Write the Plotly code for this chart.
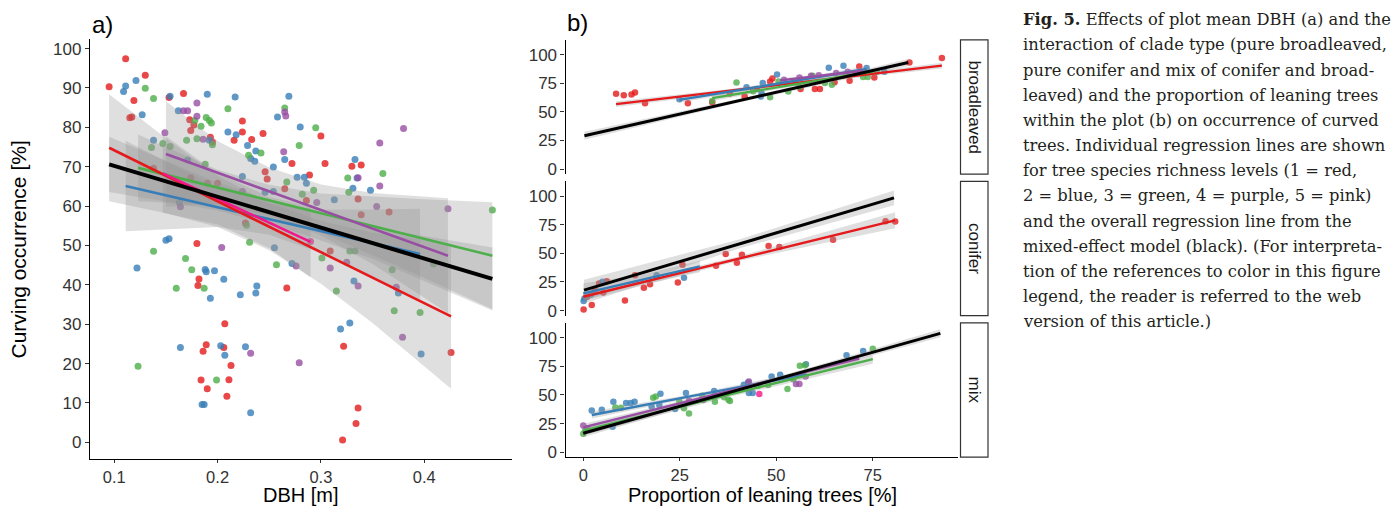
import plotly.graph_objects as go

W, H = 1399, 509
RED, BLUE, GREEN, PURPLE, PINK = "#E41A1C", "#377EB8", "#4DAF4A", "#984EA3", "#F2178A"
RIB = "rgba(150,150,150,0.30)"
FONT = "Liberation Sans, Arial, sans-serif"

# ---------------- Panel a: DBH vs curving occurrence ----------------
a_red_x = [0.095, 0.111, 0.119, 0.115, 0.117, 0.130, 0.153, 0.167, 0.173, 0.177, 0.174, 0.193, 0.195, 0.224, 0.224,
           0.216, 0.233, 0.244, 0.174, 0.200, 0.190, 0.227, 0.180, 0.182, 0.181, 0.207, 0.189, 0.186, 0.206, 0.213,
           0.184, 0.211, 0.190, 0.209, 0.267, 0.289, 0.248, 0.246, 0.265, 0.286, 0.336, 0.366, 0.339, 0.300, 0.272,
           0.304, 0.330, 0.339, 0.309, 0.322, 0.426, 0.336, 0.334, 0.321, 0.138]
a_red_y = [90.3, 97.4, 86.8, 82.4, 82.6, 93.2, 87.6, 88.6, 81.9, 80.6, 79.2, 77.5, 76.3, 81.6, 78.8,
           76.7, 76.9, 78.4, 67.2, 65.8, 65.8, 55.7, 50.5, 41.5, 39.8, 30.1, 24.8, 23.1, 24.1, 19.5,
           15.8, 15.9, 13.6, 11.7, 39.2, 67.9, 66.9, 68.7, 64.4, 61.4, 61.8, 58.5, 57.8, 77.8, 70.8,
           70.8, 70.1, 70.4, 48.6, 24.4, 22.8, 8.7, 4.8, 0.6, 69.6]
a_blue_x = [0.109, 0.111, 0.121, 0.127, 0.138, 0.154, 0.162, 0.190, 0.217, 0.210, 0.218, 0.192, 0.229, 0.232, 0.236,
            0.237, 0.171, 0.224, 0.163, 0.150, 0.153, 0.122, 0.188, 0.189, 0.197, 0.206, 0.193, 0.222, 0.238, 0.237,
            0.164, 0.203, 0.207, 0.227, 0.185, 0.187, 0.232, 0.255, 0.272, 0.319, 0.328, 0.332, 0.375, 0.277, 0.284,
            0.286, 0.313, 0.331, 0.348, 0.335, 0.269, 0.258, 0.280, 0.265, 0.333, 0.254, 0.246, 0.254, 0.397]
a_blue_y = [89.1, 90.5, 91.9, 83.2, 76.7, 87.9, 84.2, 88.4, 87.7, 78.8, 78.1, 76.7, 75.4, 72.1, 71.4,
            74.0, 71.7, 67.5, 60.9, 51.3, 51.7, 44.3, 43.9, 43.3, 43.6, 41.4, 36.6, 37.5, 39.7, 37.9,
            24.1, 24.5, 22.1, 24.3, 9.6, 9.6, 7.5, 49.4, 45.4, 28.8, 30.3, 41.0, 37.9, 67.3, 67.3,
            65.8, 61.6, 64.5, 64.0, 67.1, 87.9, 82.6, 80.1, 71.8, 71.8, 69.9, 63.5, 63.7, 22.4]
a_green_x = [0.130, 0.138, 0.136, 0.147, 0.154, 0.170, 0.180, 0.184, 0.189, 0.192, 0.194, 0.178, 0.195, 0.210, 0.230,
             0.242, 0.228, 0.138, 0.231, 0.169, 0.175, 0.160, 0.187, 0.123, 0.199, 0.257, 0.315, 0.371, 0.396, 0.301,
             0.328, 0.333, 0.369, 0.267, 0.282, 0.293, 0.327, 0.326, 0.360, 0.265, 0.295, 0.279, 0.466, 0.409, 0.188]
a_green_y = [89.9, 87.3, 74.9, 75.9, 75.1, 76.7, 77.1, 80.3, 82.5, 81.7, 81.1, 81.7, 75.6, 84.7, 72.9,
             73.5, 55.1, 48.5, 50.8, 46.7, 43.8, 39.1, 39.1, 19.3, 15.8, 45.1, 38.4, 33.4, 33.0, 46.8,
             48.6, 48.6, 43.8, 66.1, 63.0, 64.0, 63.5, 67.1, 68.3, 84.9, 79.9, 75.4, 59.0, 45.3, 70.6]
a_purple_x = [0.149, 0.167, 0.171, 0.180, 0.180, 0.186, 0.224, 0.164, 0.204, 0.232, 0.276, 0.309, 0.325, 0.336,
              0.373, 0.296, 0.357, 0.354, 0.336, 0.265, 0.266, 0.380, 0.357, 0.264, 0.423, 0.379, 0.279]
a_purple_y = [78.6, 84.2, 84.2, 86.2, 82.8, 77.0, 63.7, 59.8, 49.5, 22.6, 44.8, 44.3, 45.7, 39.7,
              39.4, 60.9, 65.1, 59.9, 67.2, 83.9, 82.9, 79.7, 76.0, 73.8, 59.3, 26.7, 20.2]
a_pink_x = [0.290]
a_pink_y = [51.0]

# fitted lines (start/end) and confidence ribbons, panel a
a_fit_black_x = [0.095, 0.466]; a_fit_black_y = [70.6, 41.5]
a_fit_red_x = [0.095, 0.426]; a_fit_red_y = [74.8, 32.0]
a_fit_blue_x = [0.111, 0.396]; a_fit_blue_y = [65.1, 47.8]
a_fit_green_x = [0.123, 0.466]; a_fit_green_y = [69.7, 47.4]
a_fit_purple_x = [0.150, 0.423]; a_fit_purple_y = [73.2, 47.4]
a_fit_pink_x = [0.147, 0.290]; a_fit_pink_y = [68.3, 50.9]

a_rib_red_x = [0.095, 0.15, 0.2, 0.25, 0.3, 0.35, 0.4, 0.426]
a_rib_red_lo = [61.2, 58.2, 54.7, 48.8, 40.3, 30.3, 19.4, 13.6]
a_rib_red_hi = [88.4, 77.2, 67.7, 60.8, 56.3, 53.3, 51.4, 50.4]
a_rib_black_x = [0.095, 0.2, 0.28, 0.35, 0.466]
a_rib_black_lo = [63.6, 58.9, 53.1, 46.6, 33.5]
a_rib_black_hi = [77.6, 65.9, 59.1, 54.6, 49.5]
a_rib_green_x = [0.123, 0.2, 0.25, 0.3, 0.4, 0.466]
a_rib_green_lo = [61.2, 60.2, 57.4, 53.2, 41.7, 33.8]
a_rib_green_hi = [78.2, 69.2, 65.4, 63.2, 61.7, 61.0]
a_rib_blue_x = [0.111, 0.2, 0.25, 0.3, 0.35, 0.396]
a_rib_blue_lo = [53.6, 54.7, 52.7, 48.1, 42.1, 36.3]
a_rib_blue_hi = [76.6, 64.7, 60.7, 59.1, 59.1, 59.3]
a_rib_purple_x = [0.150, 0.2, 0.25, 0.3, 0.35, 0.423]
a_rib_purple_lo = [59.8, 60.5, 57.8, 52.5, 45.3, 32.8]
a_rib_purple_hi = [86.6, 76.5, 69.8, 65.5, 63.3, 62.0]
a_rib_pink_x = [0.147, 0.2, 0.25, 0.29]
a_rib_pink_lo = [58.3, 55.3, 49.3, 41.9]
a_rib_pink_hi = [78.3, 68.3, 62.3, 59.9]

# ---------------- Panel b: leaning trees vs curving, by clade ----------------
facets = ["broadleaved", "conifer", "mix"]

bl_red_x = [8.5, 10.5, 12.5, 13.4, 16.0, 27.1, 33.4, 41.8, 48.4, 49.0, 56.3, 60.0, 61.3, 65.1, 69.0, 71.5, 75.4, 84.5, 92.9, 45.0, 38.0]
bl_red_y = [65.8, 64.6, 65.2, 66.9, 57.6, 57.6, 58.5, 63.4, 76.6, 79.2, 69.9, 69.9, 69.9, 76.0, 77.2, 89.7, 80.1, 93.2, 97.1, 70.0, 66.0]
bl_blue_x = [24.9, 42.3, 46.5, 46.0, 46.2, 50.2, 63.6, 67.4, 73.4, 55.0, 78.0]
bl_blue_y = [61.1, 71.6, 75.2, 63.4, 66.4, 82.7, 88.6, 90.4, 88.3, 76.0, 85.0]
bl_green_x = [33.4, 39.7, 48.4, 50.6, 53.1, 59.4, 62.6, 64.4, 72.5, 73.7, 44.0, 56.0, 68.0, 76.0]
bl_green_y = [59.5, 75.7, 62.9, 76.6, 67.8, 81.6, 75.2, 73.7, 80.4, 80.4, 68.0, 72.0, 82.0, 85.0]
bl_purple_x = [52.0, 56.0, 61.0, 65.5, 68.5, 59.0]
bl_purple_y = [78.0, 80.0, 82.0, 84.0, 85.0, 81.5]

co_red_x = [0.1, 2.2, 4.1, 6.1, 5.2, 10.8, 13.4, 15.7, 17.3, 24.5, 25.7, 34.4, 36.9, 39.8, 41.1, 48.0, 50.8, 64.7, 78.3, 80.8, 1.0, 3.0]
co_red_y = [0.9, 4.9, 23.6, 25.7, 15.8, 8.9, 30.8, 19.9, 23.1, 24.5, 40.0, 39.2, 49.5, 41.8, 48.7, 56.4, 55.6, 62.0, 78.1, 77.8, 12.0, 18.0]
co_blue_x = [0.1, 0.3, 5.0, 19.0, 26.1, 2.0]
co_blue_y = [8.4, 10.6, 25.1, 30.8, 28.8, 14.0]

mx_blue_x = [2.2, 4.8, 7.8, 7.6, 11.1, 12.3, 13.3, 17.7, 20.0, 19.7, 23.8, 26.6, 33.9, 41.6, 42.7, 42.9, 43.9, 48.8, 51.0, 57.7, 68.2, 72.5]
mx_blue_y = [36.3, 37.1, 44.1, 22.3, 43.0, 43.0, 44.1, 40.0, 51.0, 41.2, 37.7, 51.6, 53.4, 58.9, 60.9, 51.6, 51.6, 66.1, 67.6, 76.9, 84.7, 88.4]
mx_green_x = [8.3, 9.8, 18.1, 18.8, 24.9, 26.1, 27.4, 30.8, 34.1, 36.5, 37.6, 38.0, 45.3, 47.9, 52.9, 54.4, 54.0, 56.1, 57.4, 75.0, 0.0, 0.5]
mx_green_y = [39.1, 38.9, 47.6, 48.7, 44.1, 38.3, 33.7, 49.3, 44.1, 48.0, 45.8, 44.7, 58.0, 58.6, 55.1, 63.8, 65.2, 75.4, 76.0, 90.4, 16.0, 19.0]
mx_purple_x = [0.0, 27.4, 31.1, 42.9, 55.1, 56.0, 57.6, 1.0]
mx_purple_y = [23.2, 45.0, 45.6, 61.7, 59.5, 59.5, 66.1, 21.0]
mx_pink_x = [45.6]
mx_pink_y = [50.8]

# fits for panel b: (x0, x1), (y0, y1), ribbon half widths at start/middle/end
bl_fits = {
    "black": ([0.3, 84.2], [29.2, 93.2], [3.5, 1.5, 3.0]),
    "red": ([8.5, 92.9], [56.8, 90.4], [2.5, 1.2, 2.5]),
    "blue": ([24.9, 73.4], [60.5, 87.5], [2.5, 1.5, 2.5]),
    "green": ([33.4, 75.4], [62.0, 85.5], [2.5, 1.5, 2.5]),
    "purple": ([51.0, 72.5], [77.5, 86.0], [2.0, 1.2, 2.0]),
}
co_fits = {
    "black": ([0.2, 80.5], [17.9, 98.5], [9.0, 4.0, 6.5]),
    "red": ([0.0, 80.8], [12.1, 78.9], [3.5, 2.0, 7.0]),
    "blue": ([0.0, 30.2], [15.0, 38.6], [9.0, 4.5, 5.0]),
}
mx_fits = {
    "black": ([0.0, 92.5], [16.5, 103.8], [3.5, 1.5, 3.5]),
    "blue": ([2.2, 57.7], [32.5, 67.9], [3.0, 1.5, 3.0]),
    "purple": ([0.0, 71.5], [21.7, 81.7], [3.0, 1.5, 3.0]),
    "green": ([0.0, 75.0], [18.8, 81.2], [4.0, 2.0, 4.0]),
}

caption_lines = [
    "<b>Fig. 5.</b> Effects of plot mean DBH (a) and the",
    "interaction of clade type (pure broadleaved,",
    "pure conifer and mix of conifer and broad-",
    "leaved) and the proportion of leaning trees",
    "within the plot (b) on occurrence of curved",
    "trees. Individual regression lines are shown",
    "for tree species richness levels (1 = red,",
    "2 = blue, 3 = green, 4 = purple, 5 = pink)",
    "and the overall regression line from the",
    "mixed-effect model (black). (For interpreta-",
    "tion of the references to color in this figure",
    "legend, the reader is referred to the web",
    "version of this article.)",
]

COLS = {"black": "#000000", "red": RED, "blue": BLUE, "green": GREEN, "purple": PURPLE, "pink": PINK}

fig = go.Figure()


def pts(x, y, color, xa, ya, size=7):
    fig.add_trace(go.Scatter(x=x, y=y, mode="markers", xaxis=xa, yaxis=ya, hoverinfo="skip",
                             marker=dict(color=color, size=size, opacity=0.8, line=dict(width=0))))


def ribbon(x, lo, hi, xa, ya):
    fig.add_trace(go.Scatter(x=list(x) + list(x)[::-1], y=list(hi) + list(lo)[::-1], mode="lines",
                             fill="toself", fillcolor=RIB, line=dict(width=0), xaxis=xa, yaxis=ya,
                             hoverinfo="skip"))


def line(x, y, color, w, xa, ya):
    fig.add_trace(go.Scatter(x=x, y=y, mode="lines", line=dict(color=color, width=w), xaxis=xa, yaxis=ya,
                             hoverinfo="skip"))


# panel a
pts(a_red_x, a_red_y, RED, "x", "y")
pts(a_blue_x, a_blue_y, BLUE, "x", "y")
pts(a_green_x, a_green_y, GREEN, "x", "y")
pts(a_purple_x, a_purple_y, PURPLE, "x", "y")
pts(a_pink_x, a_pink_y, PINK, "x", "y")
for rx, rlo, rhi in [(a_rib_red_x, a_rib_red_lo, a_rib_red_hi), (a_rib_blue_x, a_rib_blue_lo, a_rib_blue_hi),
                     (a_rib_green_x, a_rib_green_lo, a_rib_green_hi), (a_rib_purple_x, a_rib_purple_lo, a_rib_purple_hi),
                     (a_rib_pink_x, a_rib_pink_lo, a_rib_pink_hi), (a_rib_black_x, a_rib_black_lo, a_rib_black_hi)]:
    ribbon(rx, rlo, rhi, "x", "y")
line(a_fit_blue_x, a_fit_blue_y, BLUE, 2.6, "x", "y")
line(a_fit_green_x, a_fit_green_y, GREEN, 2.6, "x", "y")
line(a_fit_purple_x, a_fit_purple_y, PURPLE, 2.6, "x", "y")
line(a_fit_red_x, a_fit_red_y, RED, 2.6, "x", "y")
line(a_fit_pink_x, a_fit_pink_y, PINK, 2.6, "x", "y")
line(a_fit_black_x, a_fit_black_y, "#000000", 4, "x", "y")

# panel b
panel_pts = [
    ("x2", "y2", [(bl_red_x, bl_red_y, RED), (bl_blue_x, bl_blue_y, BLUE), (bl_green_x, bl_green_y, GREEN),
                  (bl_purple_x, bl_purple_y, PURPLE)], bl_fits),
    ("x3", "y3", [(co_red_x, co_red_y, RED), (co_blue_x, co_blue_y, BLUE)], co_fits),
    ("x4", "y4", [(mx_blue_x, mx_blue_y, BLUE), (mx_green_x, mx_green_y, GREEN), (mx_purple_x, mx_purple_y, PURPLE),
                  (mx_pink_x, mx_pink_y, PINK)], mx_fits),
]
for xa, ya, plist, fits in panel_pts:
    for px_, py_, c in plist:
        pts(px_, py_, c, xa, ya, size=6.5)
    for name, (fx, fy, hw) in fits.items():
        xm = (fx[0] + fx[1]) / 2
        ym = (fy[0] + fy[1]) / 2
        rx = [fx[0], xm, fx[1]]
        ry = [fy[0], ym, fy[1]]
        ribbon(rx, [ry[i] - hw[i] for i in range(3)], [ry[i] + hw[i] for i in range(3)], xa, ya)
    for name, (fx, fy, hw) in fits.items():
        if name != "black":
            line(fx, fy, COLS[name], 2.4, xa, ya)
    fx, fy, hw = fits["black"]
    line(fx, fy, "#000000", 3, xa, ya)


def X(p):
    return p / W


def Y(p):
    return 1 - p / H


axis_common = dict(showline=True, linecolor="#000000", linewidth=1.1, ticks="outside", ticklen=4,
                   tickcolor="#333333", tickwidth=1.1, showgrid=False, zeroline=False,
                   tickfont=dict(family=FONT, size=17, color="#333333"))
xaxis_common = dict(axis_common, ticklen=3, tickfont=dict(family=FONT, size=16.5, color="#333333"))

yb_range = [-4.35, 113]
fig.update_layout(
    width=W, height=H, margin=dict(l=0, r=0, t=0, b=0), plot_bgcolor="white", paper_bgcolor="white",
    showlegend=False,
    xaxis=dict(domain=[X(89.9), X(511.6)], range=[0.0764, 0.4846], tickvals=[0.1, 0.2, 0.3, 0.4],
               ticktext=["0.1", "0.2", "0.3", "0.4"], anchor="y", **xaxis_common),
    yaxis=dict(domain=[Y(464), Y(39.7)], range=[-4.35, 102.35], tickvals=list(range(0, 101, 10)),
               anchor="x", **axis_common),
    xaxis2=dict(domain=[X(565.5), X(958.1)], range=[-4.6, 97.1], anchor="y2", matches="x4",
                showticklabels=False, showline=False, ticks="", showgrid=False, zeroline=False),
    xaxis3=dict(domain=[X(565.5), X(958.1)], range=[-4.6, 97.1], anchor="y3", matches="x4",
                showticklabels=False, showline=False, ticks="", showgrid=False, zeroline=False),
    xaxis4=dict(domain=[X(565.5), X(958.1)], range=[-4.6, 97.1], anchor="y4", tickvals=[0, 25, 50, 75],
                **xaxis_common),
    yaxis2=dict(domain=[Y(175.8), Y(40.2)], range=yb_range, anchor="x2", tickvals=[0, 25, 50, 75, 100],
                **axis_common),
    yaxis3=dict(domain=[Y(318.7), Y(183.1)], range=yb_range, anchor="x3", tickvals=[0, 25, 50, 75, 100],
                **axis_common),
    yaxis4=dict(domain=[Y(461.7), Y(326.0)], range=yb_range, anchor="x4", tickvals=[0, 25, 50, 75, 100],
                **axis_common),
)

P = dict(xref="paper", yref="paper", showarrow=False)
ann = []
# panel labels
ann.append(dict(text="a)", x=X(90), y=Y(25), xanchor="left", yanchor="middle",
                font=dict(family=FONT, size=24, color="#000000"), **P))
ann.append(dict(text="b)", x=X(565), y=Y(23), xanchor="left", yanchor="middle",
                font=dict(family=FONT, size=24, color="#000000"), **P))
# axis titles
ann.append(dict(text="Curving occurrence [%]", x=X(19), y=Y(252), textangle=-90, xanchor="center",
                yanchor="middle", font=dict(family=FONT, size=21, color="#000000"), **P))
ann.append(dict(text="DBH [m]", x=X(301), y=Y(500), xanchor="center", yanchor="middle",
                font=dict(family=FONT, size=20, color="#000000"), **P))
ann.append(dict(text="Proportion of leaning trees [%]", x=X(762), y=Y(500), xanchor="center", yanchor="middle",
                font=dict(family=FONT, size=20, color="#000000"), **P))

# facet strips
shapes = []
strip_y = [(40.2, 175.8), (183.1, 318.7), (326.0, 461.7)]
for name, (t, b) in zip(facets, strip_y):
    shapes.append(dict(type="rect", xref="paper", yref="paper", x0=X(960.5), x1=X(988), y0=Y(b), y1=Y(t),
                       line=dict(color="#333333", width=1.2), fillcolor="white"))
    ann.append(dict(text=name, x=X(974.5), y=Y((t + b) / 2), textangle=90, xanchor="center", yanchor="middle",
                    font=dict(family=FONT, size=17, color="#1A1A1A"), **P))

# caption
for i, s in enumerate(caption_lines):
    ann.append(dict(text=s, x=X(1021), y=Y(20 + 25.4 * i), xanchor="left", yanchor="middle",
                    font=dict(family="DejaVu Serif, serif", size=16.3, color="#231F20"), **P))

fig.update_layout(annotations=ann, shapes=shapes)
fig.write_html("out.html", config={"displayModeBar": False},
               post_script="document.body.style.margin='0px';")
